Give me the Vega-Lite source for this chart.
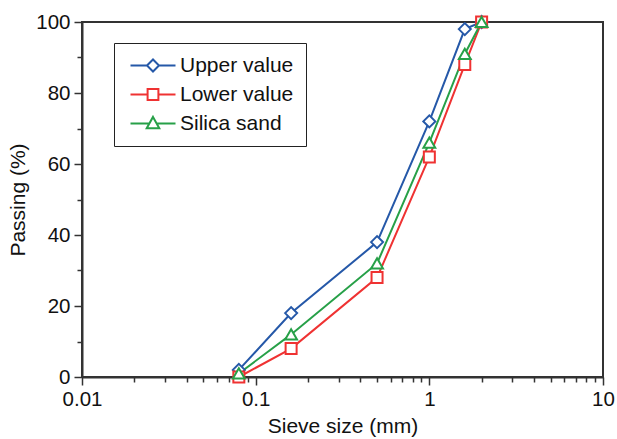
{
  "$schema": "https://vega.github.io/schema/vega-lite/v6.json",
  "width": 521,
  "height": 355,
  "autosize": "none",
  "padding": {"left": 82, "top": 22, "right": 14, "bottom": 62},
  "config": {
    "font": "Liberation Sans",
    "view": {"stroke": "#333333", "strokeWidth": 2},
    "axis": {"grid": false, "labelFont": "Liberation Sans", "titleFont": "Liberation Sans", "labelColor": "#111111", "titleColor": "#111111", "domainColor": "#333333", "tickColor": "#333333", "domainWidth": 2, "tickWidth": 1.5, "labelFontSize": 20.5, "titleFontSize": 21, "titleFontWeight": "normal"}
  },
  "data": {
    "values": [
      {"size": 0.08, "passing": 2, "series": "Upper value"},
      {"size": 0.16, "passing": 18, "series": "Upper value"},
      {"size": 0.5, "passing": 38, "series": "Upper value"},
      {"size": 1, "passing": 72, "series": "Upper value"},
      {"size": 1.6, "passing": 98, "series": "Upper value"},
      {"size": 2, "passing": 100, "series": "Upper value"},
      {"size": 0.08, "passing": 0, "series": "Lower value"},
      {"size": 0.16, "passing": 8, "series": "Lower value"},
      {"size": 0.5, "passing": 28, "series": "Lower value"},
      {"size": 1, "passing": 62, "series": "Lower value"},
      {"size": 1.6, "passing": 88, "series": "Lower value"},
      {"size": 2, "passing": 100, "series": "Lower value"},
      {"size": 0.08, "passing": 1, "series": "Silica sand"},
      {"size": 0.16, "passing": 12, "series": "Silica sand"},
      {"size": 0.5, "passing": 32, "series": "Silica sand"},
      {"size": 1, "passing": 66, "series": "Silica sand"},
      {"size": 1.6, "passing": 91, "series": "Silica sand"},
      {"size": 2, "passing": 100, "series": "Silica sand"}
    ]
  },
  "resolve": {"axis": {"x": "independent", "y": "independent"}},
  "layer": [
    {
      "mark": {"type": "line", "strokeWidth": 2, "clip": false},
      "encoding": {
        "x": {"field": "size", "type": "quantitative", "scale": {"type": "log", "domain": [0.01, 10], "nice": false},
          "axis": {"orient": "bottom", "values": [0.01, 0.1, 1, 10], "labelExpr": "datum.value + ''", "tickSize": 8, "labelPadding": 4, "title": "Sieve size (mm)", "titlePadding": 6, "labelFlush": false, "labelOverlap": false}},
        "y": {"field": "passing", "type": "quantitative", "scale": {"domain": [0, 100], "nice": false},
          "axis": {"orient": "left", "values": [0, 20, 40, 60, 80, 100], "tickSize": 8, "labelPadding": 4, "title": "Passing (%)", "titlePadding": 7}},
        "color": {"field": "series", "type": "nominal",
          "scale": {"domain": ["Upper value", "Lower value", "Silica sand"], "range": ["#2558a8", "#ef3232", "#27a048"]},
          "legend": {
            "title": null, "orient": "none", "legendX": 32, "legendY": 21,
            "strokeColor": "#222222", "padding": 12, "labelFontSize": 21, "labelFont": "Liberation Sans", "labelColor": "#111111",
            "symbolSize": 144, "symbolStrokeWidth": 2, "labelOffset": 33, "rowPadding": 7
          }},
        "detail": {"field": "series"}
      }
    },
    {
      "transform": [{"filter": "datum.series == 'Upper value'"}],
      "mark": {"type": "point", "shape": "diamond", "filled": false, "fill": "white", "fillOpacity": 1, "opacity": 1, "strokeWidth": 2, "size": 144, "clip": false},
      "encoding": {
        "x": {"field": "size", "type": "quantitative",
          "axis": {"orient": "bottom", "values": [0.02, 0.03, 0.04, 0.05, 0.06, 0.07, 0.08, 0.09, 0.2, 0.3, 0.4, 0.5, 0.6, 0.7, 0.8, 0.9, 2, 3, 4, 5, 6, 7, 8, 9], "labels": false, "domain": false, "tickSize": 5, "title": null}},
        "y": {"field": "passing", "type": "quantitative",
          "axis": {"orient": "left", "values": [10, 30, 50, 70, 90], "labels": false, "domain": false, "tickSize": 5, "title": null}},
        "color": {"field": "series", "type": "nominal"}
      }
    },
    {
      "transform": [{"filter": "datum.series == 'Lower value'"}],
      "mark": {"type": "point", "shape": "square", "filled": false, "fill": "white", "fillOpacity": 1, "opacity": 1, "strokeWidth": 2, "size": 121, "clip": false},
      "encoding": {
        "x": {"field": "size", "type": "quantitative", "axis": null},
        "y": {"field": "passing", "type": "quantitative", "axis": null},
        "color": {"field": "series", "type": "nominal"}
      }
    },
    {
      "transform": [{"filter": "datum.series == 'Silica sand'"}],
      "mark": {"type": "point", "shape": "triangle-up", "filled": false, "fill": "white", "fillOpacity": 1, "opacity": 1, "strokeWidth": 2, "size": 140, "clip": false},
      "encoding": {
        "x": {"field": "size", "type": "quantitative", "axis": null},
        "y": {"field": "passing", "type": "quantitative", "axis": null},
        "color": {"field": "series", "type": "nominal"}
      }
    },
    {
      "mark": {"type": "point", "filled": false, "size": 0, "strokeWidth": 0, "clip": false},
      "encoding": {
        "x": {"field": "size", "type": "quantitative", "axis": null},
        "y": {"field": "passing", "type": "quantitative", "axis": null},
        "color": {"field": "series", "type": "nominal"},
        "shape": {"field": "series", "type": "nominal",
          "scale": {"domain": ["Upper value", "Lower value", "Silica sand"],
            "range": ["M-1,0L1.75,0M3.75,0L6.5,0M1.75,0L2.75,-1L3.75,0L2.75,1Z", "M-1,0L1.85,0M3.65,0L6.5,0M1.85,-0.9L3.65,-0.9L3.65,0.9L1.85,0.9Z", "M-1,0L2.14,0M3.36,0L6.5,0M2.75,-1.1L3.8,0.8L1.7,0.8Z"]}}
      }
    }
  ]
}
